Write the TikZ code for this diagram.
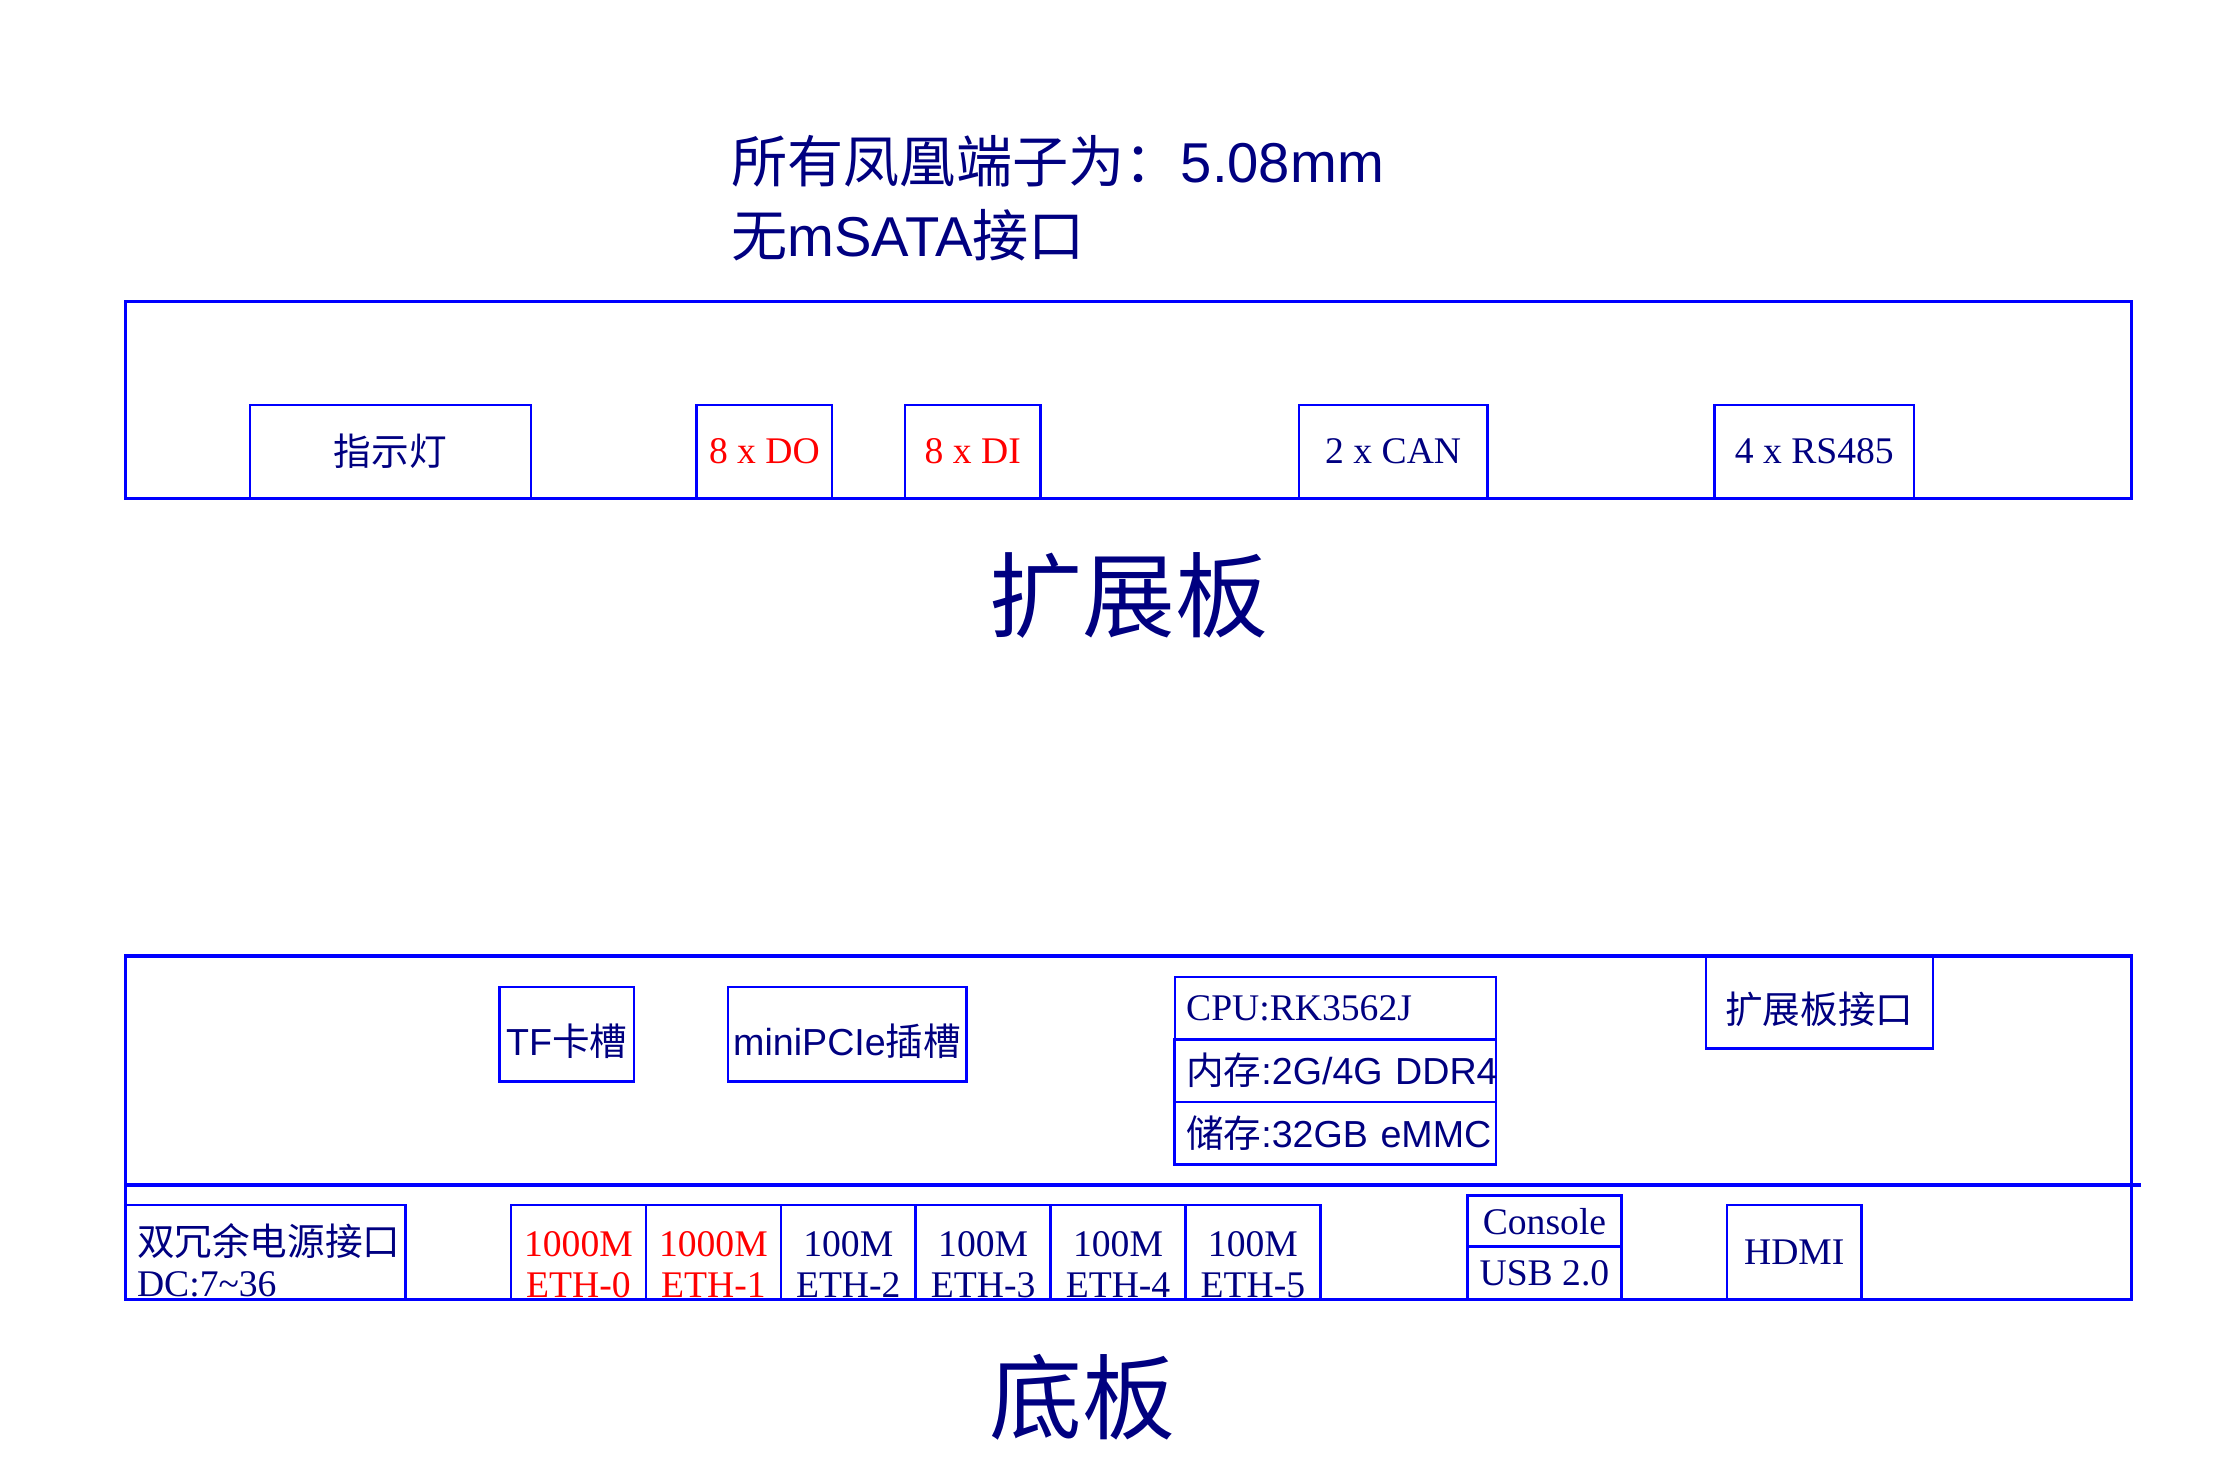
\documentclass[tikz,border=0pt]{standalone}
\usepackage{fontspec}
\setmainfont{Liberation Serif}
\setsansfont{Liberation Sans}
\newfontfamily\cjk{Noto Sans CJK SC}
\usepackage{tikz}
\usetikzlibrary{positioning}

\definecolor{edgeblue}{RGB}{0,0,255}
\definecolor{labnavy}{RGB}{0,0,128}
\definecolor{labred}{RGB}{255,0,0}

% two lines of a port label, set a little low in the box
\newcommand{\twoline}[4]{\raisebox{#2}[\height][\depth]{\begin{tabular}{@{}#1@{}}#3\\#4\end{tabular}}}

\begin{document}
\begin{tikzpicture}[x=0.2mm, y=-0.2mm,
  board/.style={draw=edgeblue, line width=1.3pt, shape=rectangle, inner sep=0pt, outer sep=0pt},
  part/.style={draw=edgeblue, line width=1pt, shape=rectangle, inner sep=0pt, outer sep=0pt,
    text=labnavy, align=center, font=\fontsize{15}{16.5}\selectfont},
  low/.style={text height=18pt, text depth=1pt},
  row/.style={part, minimum width=45mm, minimum height=8.76mm, text width=41.8mm,
    inner xsep=1.6mm, align=left},
  title/.style={text=labnavy, font=\cjk\fontsize{37}{40}\selectfont},
  note/.style={text=labnavy, anchor=base west, inner sep=0pt, font=\fontsize{22.4}{29.6}\selectfont}]

  \useasboundingbox (0,0) rectangle (1560,1027.5);

  \begin{scope}[scale=0.995, transform shape]
  % remarks
  \node[note] (notea) at (512,127.6) {{\cjk 所有凤凰端子为：}\sffamily 5.08mm};
  \node[note] (noteb) at (512,179.9) {{\cjk 无}\sffamily mSATA{\cjk 接口}};

  % extension board
  \node[board, minimum width=281mm, minimum height=27.6mm] (extboard) at (790.5,280) {};
  \node[part, minimum width=39.4mm, minimum height=13.06mm] (lamp) at (273.5,316.4) {\cjk 指示灯};
  \node[part, text=labred, minimum width=19mm, minimum height=13.06mm] (dout) at (535.5,316.4) {8 x DO};
  \node[part, text=labred, minimum width=19mm, minimum height=13.06mm] (din) at (681.5,316.4) {8 x DI};
  \node[part, minimum width=26.4mm, minimum height=13.06mm] (can) at (976,316.4) {2 x CAN};
  \node[part, minimum width=28mm, minimum height=13.06mm] (rs485) at (1271,316.4) {4 x RS485};
  \node[title] (exttitle) at (791,417.3) {扩展板};

  % base board
  \node[board, minimum width=281mm, minimum height=48.1mm] (mainboard) at (790.5,790) {};
  \coordinate (split) at (88,830.2);
  \coordinate (splitend) at (1500,830.2);
  \draw[edgeblue, line width=1.3pt] (split) -- (splitend);

  \node[part, low, minimum width=18.8mm, minimum height=13.26mm, font=\sffamily\fontsize{15}{16.5}\selectfont] (tfslot) at (397,724.6) {TF{\cjk 卡槽}};
  \node[part, low, minimum width=33.4mm, minimum height=13.26mm, font=\sffamily\fontsize{15}{16.5}\selectfont] (pcie) at (593.5,724.6) {miniPCIe{\cjk 插槽}};

  \node[row] (cpu) at (935.5,706.3) {\mbox{CPU:RK3562J}};
  \node[row, below=0pt of cpu, font=\sffamily\fontsize{15}{16.5}\selectfont] (ram) {\mbox{{\cjk 内存}:2G/4G DDR4}};
  \node[row, below=0pt of ram, font=\sffamily\fontsize{15}{16.5}\selectfont] (rom) {\mbox{{\cjk 储存}:32GB eMMC}};

  \node[part, low, minimum width=31.8mm, minimum height=13mm] (extport) at (1274.5,702.2) {\cjk 扩展板接口};

  \node[part, minimum width=39.2mm, minimum height=13.2mm, text width=36mm, inner xsep=1.6mm, align=left] (power) at (186,877.2) {\twoline{l}{-5.5pt}{\cjk 双冗余电源接口}{DC:7\textasciitilde 36}};

  \foreach \i/\speed/\col in {0/1000M/labred, 1/1000M/labred, 2/100M/labnavy, 3/100M/labnavy, 4/100M/labnavy, 5/100M/labnavy}
    \node[part, text=\col, minimum width=18.9mm, minimum height=13.2mm] (eth\i) at ({405.25+94.5*\i},877.2) {\twoline{c}{-6.5pt}{\speed}{ETH-\i}};

  \node[part, minimum width=21.6mm, minimum height=7.16mm] (console) at (1082,855.5) {Console};
  \node[part, minimum width=21.6mm, minimum height=7.36mm, below=0pt of console] (usb) {USB 2.0};
  \node[part, minimum width=18.8mm, minimum height=13.2mm] (hdmi) at (1257,877.2) {HDMI};

  \node[title] (maintitle) at (758,979) {底板};
  \end{scope}
\end{tikzpicture}
\end{document}
